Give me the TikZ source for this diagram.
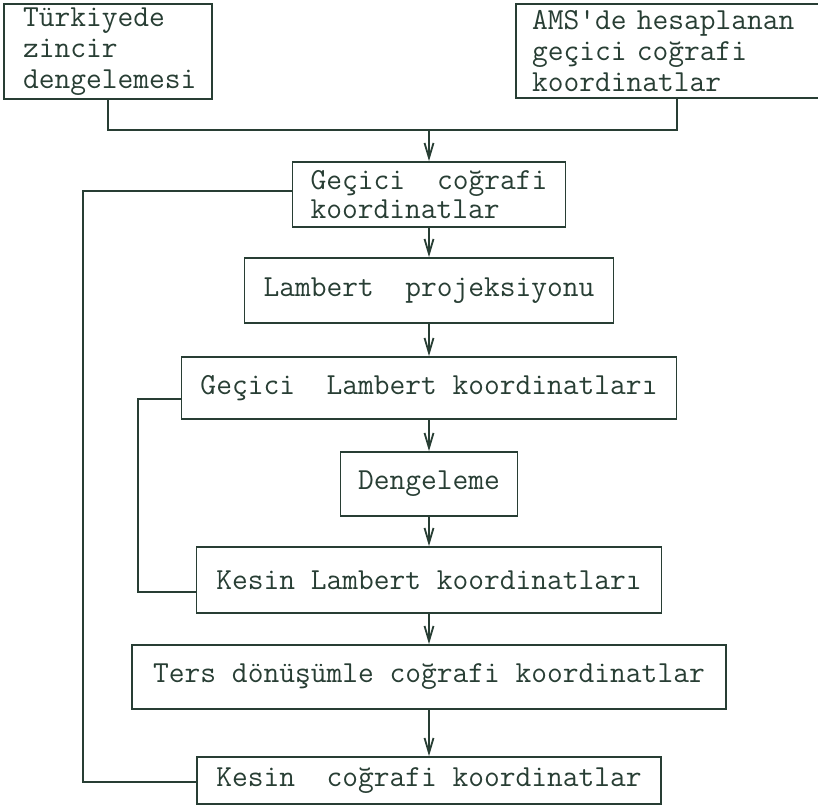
\documentclass[tikz,border=0pt]{standalone}
\usepackage{fontspec}
\usetikzlibrary{arrows.meta}
\definecolor{ink}{RGB}{40,62,52}
\begin{document}
\begin{tikzpicture}[x=0.5pt, y=-0.5pt,
	every node/.style={font=\fontsize{15.3}{15.5}\selectfont\ttfamily, text=ink},
	box/.style={draw=ink, line width=0.9pt, rectangle, inner sep=0pt},
	link/.style={draw=ink, line width=0.9pt},
	arr/.style={link, -{Straight Barb[length=7.5pt,width=4.5pt]}}]
			\useasboundingbox (0,0) rectangle (818,806);
			% top sources
			\node[box, inner xsep=9.5pt, text width=85pt, minimum height=47.5pt, align=left] (tz) at (108,51.5) {\mbox{Türkiyede}\\\mbox{zincir}\\\mbox{dengelemesi}};
			\node[box, inner xsep=8pt, text width=145pt, minimum height=47pt, align=left] (ams) at (677,51) {\mbox{AMS\textquotesingle de hesaplanan}\\\mbox{geçici coğrafi}\\\mbox{koordinatlar}};
			% main column
			\node[box, inner xsep=9pt, text width=118.5pt, minimum height=32.5pt, align=left, font=\fontsize{15.3}{14.6}\selectfont\ttfamily] (gck) at (429,194.5) {\mbox{Geçici\hspace{1.05em}coğrafi}\\\mbox{koordinatlar}};
			\node[box, minimum width=184.5pt, minimum height=32.5pt] (lp) at (429,290.5) {Lambert\ \ projeksiyonu};
			\node[box, minimum width=247.5pt, minimum height=31pt] (gl) at (429,388) {Geçici\ \ Lambert koordinatları};
			\node[box, minimum width=88.5pt, minimum height=32pt] (dg) at (429,484) {Dengeleme};
			\node[box, minimum width=232.5pt, minimum height=33pt] (kl) at (429,580) {Kesin Lambert koordinatları};
			\node[box, minimum width=297pt, minimum height=32pt] (td) at (429,677) {Ters dönüşümle coğrafi koordinatlar};
			\node[box, minimum width=232pt, minimum height=23.5pt] (kc) at (429,780.5) {Kesin\ \ coğrafi koordinatlar};
			% connectors
			\coordinate (join) at (429,130);
			\draw[link] (tz.south) |- (join) -| (ams.south);
			\draw[arr] (join) -- (gck.north);
			\draw[arr] (gck.south) -- (lp.north);
			\draw[arr] (lp.south) -- (gl.north);
			\draw[arr] (gl.south) -- (dg.north);
			\draw[arr] (dg.south) -- (kl.north);
			\draw[arr] (kl.south) -- (td.north);
			\draw[arr] (td.south) -- (kc.north);
			% feedback lines
			\draw[link] ([yshift=1.75pt]gck.west) -- ++(-209,0) |- ([yshift=-0.75pt]kc.west);
			\draw[link] ([yshift=-5.5pt]gl.west) -- ++(-42.5,0) |- ([yshift=-6pt]kl.west);
		\end{tikzpicture}
\end{document}
